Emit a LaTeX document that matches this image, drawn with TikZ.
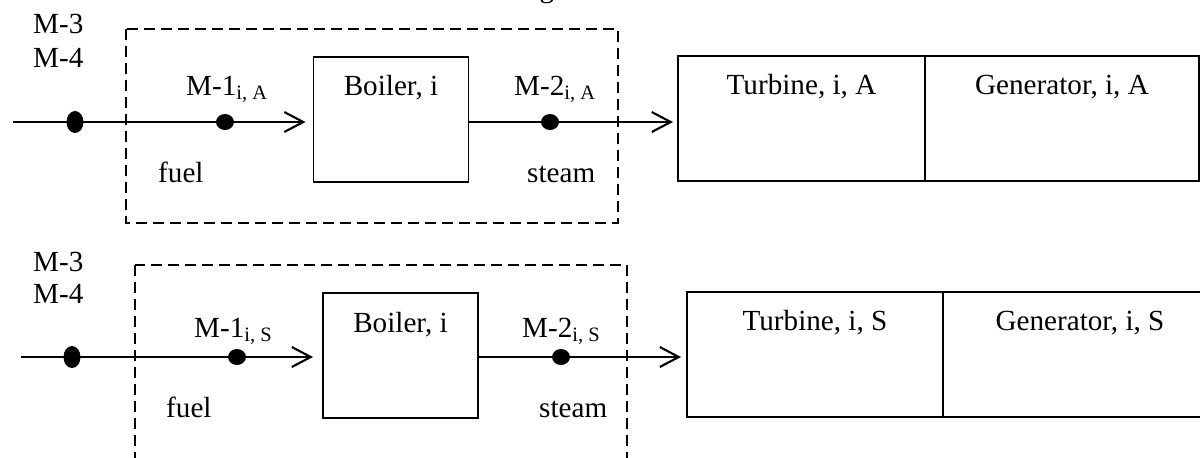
\documentclass[tikz,border=0pt]{standalone}
\usepackage{fontspec}
\setmainfont{Liberation Serif}
\usetikzlibrary{shapes, shapes.geometric, arrows.meta}

\begin{document}
\begin{tikzpicture}[x=0.02cm, y=-0.02cm,
  font=\fontsize{16.6}{20}\selectfont,
  unit/.style={rectangle, draw, line width=0.7pt, inner sep=0, outer sep=0, minimum height=2.5cm},
  flow/.style={line width=1.2pt, -{Straight Barb[length=0.38cm, width=0.4cm, line width=1.2pt]}},
  bigdot/.style={ellipse, fill, inner sep=0, minimum width=0.34cm, minimum height=0.44cm},
  smalldot/.style={ellipse, fill, inner sep=0, minimum width=0.36cm, minimum height=0.32cm},
  zone/.style={draw, line width=0.8pt, dash pattern=on 0.22cm off 0.12cm}]
\useasboundingbox (0,0) rectangle (1200,457);
\clip (0,0) rectangle (1200,457);

% 标题残字
\node[anchor=base] (cap) at (547,-3) {g};

% 上部: A
\draw[zone] (126,29) rectangle (618,223);
\node[unit, minimum width=3.1cm] (B1) at (391,119.5) {};
\node[unit, minimum width=4.94cm] (T1) at (801.5,118.5) {};
\node[unit, minimum width=5.48cm] (G1) at (1062,118.5) {};
\coordinate (in1) at (13,122);
\draw[flow, shorten >=0.16cm] (in1) -- (in1 -| B1.west);
\draw[flow, shorten >=0.1cm] (B1.east |- in1) -- (T1.west |- in1);
\node[bigdot] (d1) at (75,122) {};
\node[smalldot] (m11) at (225,122) {};
\node[smalldot] (m21) at (550,122) {};

\node[anchor=base west] (m3a) at (27,33) {M-3};
\node[anchor=base west] (m4a) at (27,67) {M-4};
\node[anchor=base west] (l11) at (180,95) {M-1\textsubscript{i, A}};
\node[anchor=base west] (l21) at (508,95) {M-2\textsubscript{i, A}};
\node[anchor=base west] (f1) at (152,182) {fuel};
\node[anchor=base west] (s1) at (521,182) {steam};
\node[anchor=base] (b1t) at (391,95) {Boiler, i};
\node[anchor=base] (t1t) at (801.5,94) {Turbine, i, A};
\node[anchor=base] (g1t) at (1062,94) {Generator, i, A};

% 下部: S
\draw[zone] (135,265) rectangle (627,475);
\node[unit, minimum width=3.1cm] (B2) at (400.5,355.5) {};
\node[unit, minimum width=5.12cm] (T2) at (815,354.5) {};
\node[unit, minimum width=5.48cm] (G2) at (1080,354.5) {};
\coordinate (in2) at (21,357);
\draw[flow, shorten >=0.2cm] (in2) -- (in2 -| B2.west);
\draw[flow, shorten >=0.12cm] (B2.east |- in2) -- (T2.west |- in2);
\node[bigdot] (d2) at (72,357) {};
\node[smalldot] (m12) at (237,357) {};
\node[smalldot] (m22) at (561,357) {};

\node[anchor=base west] (m3b) at (27,271) {M-3};
\node[anchor=base west] (m4b) at (27,303) {M-4};
\node[anchor=base west] (l12) at (188,337) {M-1\textsubscript{i, S}};
\node[anchor=base west] (l22) at (516,337) {M-2\textsubscript{i, S}};
\node[anchor=base west] (f2) at (160,417) {fuel};
\node[anchor=base west] (s2) at (533,417) {steam};
\node[anchor=base] (b2t) at (400.5,332) {Boiler, i};
\node[anchor=base] (t2t) at (815,330) {Turbine, i, S};
\node[anchor=base] (g2t) at (1080,330) {Generator, i, S};

\end{tikzpicture}
\end{document}
